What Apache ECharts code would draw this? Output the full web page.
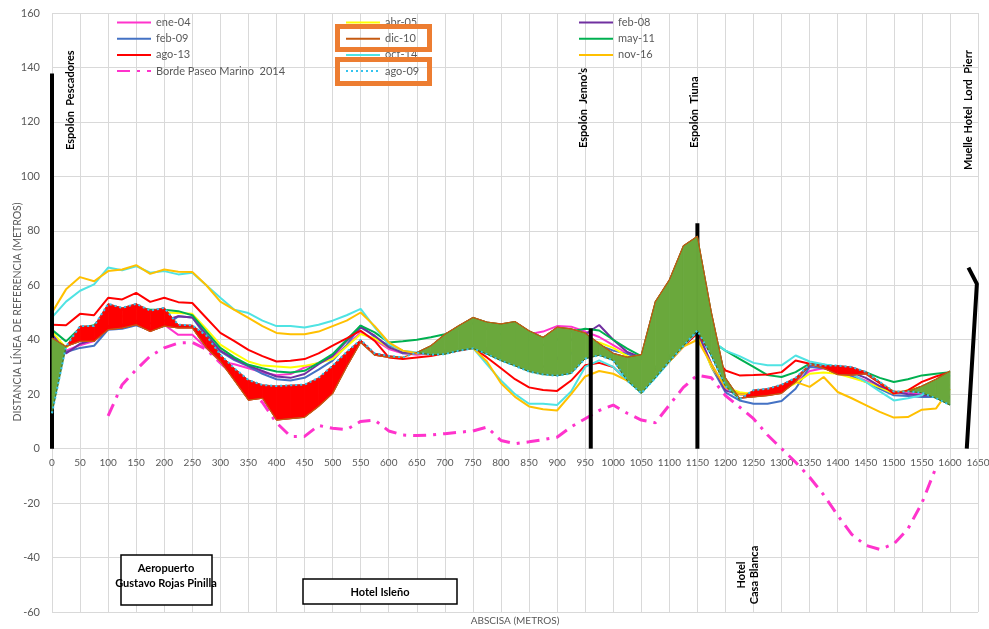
<!DOCTYPE html>
<html><head><meta charset="utf-8">
<script src="https://cdn.jsdelivr.net/npm/echarts@6/dist/echarts.min.js"></script>
<style>html,body{margin:0;padding:0;background:#fff}#c{width:989px;height:629px}</style>
</head><body><div id="c"></div>
<script>
// Abscisa (m)
const X = [0,25,50,75,100,125,150,175,200,225,250,275,300,325,350,375,
  400,425,450,475,500,525,550,575,600,625,650,675,700,725,750,775,
  800,825,850,875,900,925,950,975,1000,1025,1050,1075,1100,1125,1150,1175,
  1200,1225,1250,1275,1300,1325,1350,1375,1400,1425,1450,1475,1500,1525,1550,1575,1600];

const ene04 = [42.5,36,38,39.5,44,44.5,46,44,45.5,41.8,41.8,37,32,31,29.5,28,
  27,27.4,29.8,31.5,33.5,38,42.7,40,36.6,35,34.5,35,35.5,36.5,37.5,37,
  38,40,42,43,45,44.8,43,41,38,35,33,29,33,38,43,31,
  22,20.5,20.1,21,21.5,24.5,28.5,29.5,29,27,25,22.5,20.5,20.5,20,20,19.5];
const feb09 = [43,35.5,37,37.8,43.7,44,45.3,43.5,45,48.6,48.2,41,35.7,32.5,30.2,27.5,
  25.5,25,26,29,32.3,38,45.2,41,37.8,35,35,35,35,36,37,35,
  33,31,29,28,28,35,40,38,36,34.8,33,29,33,38,42.5,30,
  20.7,17.7,16.5,16.5,17.5,22,30,29.5,28.5,26.5,24.5,22,19.6,19.3,19,19,18.5];
const ago13 = [45.5,45.3,49.5,49,55.4,54.8,57.2,53.9,55.4,53.8,53.5,48,42.5,39.5,36.3,34,
  32,32.3,32.9,35,37.8,40.5,43.3,39.6,33.5,32.9,33.5,34,35,36,37,33.5,
  29.5,25.5,22.5,21.5,21.2,25,30.6,31.5,30,25,21,26.5,32,37.5,42.5,35,
  28.7,26.9,27,27.2,28.1,32.4,31.2,30,28.7,28,27.5,24,20.2,21.4,24.5,26.5,28.1];
const borde2014 = [null,null,null,null,12,23.5,29,34,37,38.8,39,36.5,31.5,27,22,17,
  9.5,4.5,4.5,8.5,7.5,7,10,10.5,6.5,5,4.8,5,5.5,6,6.5,7.9,
  3,1.8,2.5,3.3,4.2,8,11,14,16,13,10.5,9.5,16,22.5,27,26,
  19.5,15.3,11,5,0,-5,-10.5,-17,-24.5,-31.5,-35.5,-37,-35,-29.5,-20,-7,null];
const abr05 = [43,37,42,43,48,48.5,50,49.5,50,49.8,49.5,44,38.2,35,32,30.5,
  30.2,29.8,30.4,31.5,32.9,37.5,42.1,40.5,37.2,35.5,35,35,35.5,36.5,37.5,36,
  35,33,31,30,32,36,40,39,37,34,32,29,33,39,42,30,
  22.6,20.7,20.1,20.5,21.5,24,27.5,28,27.5,26,24.5,22.5,20.2,21.5,22.6,23,23.5];
const dic10 = [40.6,37.5,39.4,39.4,43.7,44.3,45.5,43,45,44.3,44.3,37,32,25,17.8,18.5,
  10.5,11,11.5,15.5,20.2,30,39,34.3,33.5,33.5,35.3,37.8,42,45.2,48.2,46.5,
  45.8,46.7,43.3,40.9,44.6,44,42.5,38.6,35,33.6,34.5,54,62,74.5,78,50,
  26,18.5,19,19.5,20.3,24.5,31,29.5,27.2,27,27.5,24.5,21,21,23,25.5,28.5];
const oct14 = [48.2,54,58,60.3,66.5,65.5,67,64.6,65.2,64,64.6,60,55.4,51,49.8,47,
  45,45,44.5,45.5,47,49,51.3,44.5,38.4,36,35.3,35.5,36,36.5,37,31,
  25,20,16.5,16.5,16,21,30,32.4,30,25,20.5,26,32,38,43,39.8,
  36,34,31.5,30.6,30.6,34.2,32,31,30,27.5,24.5,21,17.7,18.5,19.6,23,27];
const ago09 = [13,37.5,45,45,53.2,51.7,53.2,50.7,51.7,45.5,45.3,41.5,34.5,29.5,25.2,23.4,
  23,23.3,23.5,26,30.5,35.5,40,35,34.1,33.5,35.3,34.5,34.7,36,36.8,34.7,
  32.3,30.4,28.3,27.2,26.8,27.6,33,34.3,32.4,25,20.3,26,32,37.7,43.4,34,
  23,18,21.5,22,23.5,26,31,30.5,30.5,30,28.2,24.5,21,21,20.5,18.5,16];
const feb08 = [42,35,38.5,40,45,45.5,47,46,47,48.6,48.2,42,36,33,30.5,28.5,
  26.5,26,27.4,31,34.1,39.5,44.5,41.5,37.2,35.3,35,35,35.5,36.5,37.5,36,
  35,33,31,30,33,40,42,45.4,40,35.5,33.5,29,33,38,43,31,
  21.3,20,19.5,20.5,21.3,25,30.5,30.5,30,28,26,23,21,20,19.5,19.5,19];
const may11 = [43.7,39.4,44.3,45.3,50.5,51,52,51,51,50.5,49,43,37,33.5,30.8,29.5,
  28.3,28,28.6,31.5,34.7,40,45.2,42.7,39,39.4,40,40.9,42,44,46,44,
  42,42,40,38,40,43,44,43.4,40,36.7,34,30,34,39,42.8,39.5,
  36,33,30,27,26.3,28.1,31.2,30.8,30.2,29,28.1,26,24.5,25.5,26.9,27.5,28.1];
const nov16 = [50,58.5,63,61.5,65.2,65.8,67.4,64.2,65.8,65,64.9,60,54,51,48,45,
  42.5,42,42,43,45,47,50,45,39,36,35,35.5,36,36.5,37,32,
  24,19,15.5,14.5,14,20,26.5,28.5,27.5,25,22,27,32,37.5,40,31,
  22.5,20,20,20.5,22,24.5,22.7,26.3,20.8,18.5,16,13.5,11.4,11.6,14.3,14.7,22];

// Structures (abscisa, distancia)
const espolonPescadoresX = [0, 0];   const espolonPescadoresY = [0, 137.8];
const espolonJennosX = [960, 960];   const espolonJennosY = [0, 44.2];
const espolonTiunaX = [1150, 1150];  const espolonTiunaY = [0, 82.8];
const muelleX = [1630, 1648, 1633];  const muelleY = [0, 60.5, 66.5];

const Y_MIN = -60, Y_MAX = 160;
const GRID = { left: 52, right: 11, top: 13, bottom: 17 };
const H = 629;
const FONT = 'Lato, "Open Sans", sans-serif';
const GREY = '#595959';

function pairs(xs, ys) {
  const out = [];
  for (let i = 0; i < xs.length; i++) if (ys[i] !== null && ys[i] !== undefined) out.push([xs[i], ys[i]]);
  return out;
}
function lineSeries(name, ys, color, extra) {
  return Object.assign({
    name, type: 'line', data: pairs(X, ys), symbol: 'none', z: 2,
    lineStyle: { color, width: 2 }, itemStyle: { color }, animation: false
  }, extra || {});
}
function structSeries(xs, ys, z) {
  return { type: 'line', data: pairs(xs, ys), symbol: 'none', z,
    lineStyle: { color: '#000', width: 4, cap: 'butt' }, animation: false, silent: true };
}

// fill band between dic-10 and ago-09
const bandData = [];
for (let i = 0; i < X.length - 1; i++) bandData.push([X[i], X[i + 1], dic10[i], ago09[i], dic10[i + 1], ago09[i + 1]]);

function renderBand(params, api) {
  const xa = api.value(0), xb = api.value(1), ua = api.value(2), la = api.value(3), ub = api.value(4), lb = api.value(5);
  const da = ua - la, db = ub - lb;
  const children = [];
  function quad(x1, u1, l1, x2, u2, l2, s) {
    if (Math.abs(u1 - l1) < 1e-9 && Math.abs(u2 - l2) < 1e-9) return;
    const fill = s > 0 ? '#6AA83C' : '#FF0000';
    const edge = s > 0 ? '#3D6B22' : '#C0392B';
    const p1 = api.coord([x1, u1]), p2 = api.coord([x2, u2]), p3 = api.coord([x2, l2]), p4 = api.coord([x1, l1]);
    children.push({ type: 'polygon', shape: { points: [p1, p2, p3, p4] }, style: { fill, stroke: fill, lineWidth: 0.8 } });
    children.push({ type: 'polyline', shape: { points: [p1, p2] }, style: { stroke: edge, lineWidth: 1, fill: null } });
    children.push({ type: 'polyline', shape: { points: [p4, p3] }, style: { stroke: edge, lineWidth: 1, fill: null } });
  }
  if (da * db < 0) {
    const t = da / (da - db);
    const xm = xa + t * (xb - xa), ym = ua + t * (ub - ua);
    quad(xa, ua, la, xm, ym, ym, Math.sign(da));
    quad(xm, ym, ym, xb, ub, lb, Math.sign(db));
  } else {
    quad(xa, ua, la, xb, ub, lb, Math.sign(da + db));
  }
  return { type: 'group', children };
}

const legendBase = {
  orient: 'vertical', top: 17, itemWidth: 34, itemHeight: 12, itemGap: 5.2, selectedMode: false,
  itemStyle: { opacity: 0 },
  textStyle: { color: GREY, fontSize: 11, fontFamily: FONT }, padding: 0
};

// x axis sits on the y=0 line
const plotH = H - GRID.top - GRID.bottom;
const xAxisOffset = -plotH * (0 - Y_MIN) / (Y_MAX - Y_MIN);

const option = {
  backgroundColor: '#fff',
  animation: false,
  grid: Object.assign({ containLabel: false, outerBoundsMode: 'none' }, GRID),
  xAxis: {
    type: 'value', min: 0, max: 1650, interval: 50, position: 'bottom', offset: xAxisOffset,
    axisLine: { show: true, onZero: false, lineStyle: { color: '#D9D9D9' } },
    axisTick: { show: false },
    axisLabel: { color: GREY, fontSize: 10, fontFamily: FONT, margin: 9, formatter: function (v) { return String(v); } },
    splitLine: { show: true, lineStyle: { color: '#D9D9D9', width: 1 } }
  },
  yAxis: {
    type: 'value', min: Y_MIN, max: Y_MAX, interval: 20,
    axisLine: { show: false }, axisTick: { show: false },
    axisLabel: { color: GREY, fontSize: 11, fontFamily: FONT, margin: 12, formatter: function (v) { return String(v); } },
    splitLine: { show: true, lineStyle: { color: '#D9D9D9', width: 1 } }
  },
  legend: [
    Object.assign({ left: 116, data: ['ene-04', 'feb-09', 'ago-13', 'Borde Paseo Marino  2014'] }, legendBase),
    Object.assign({ left: 345, data: ['abr-05', 'dic-10', 'oct-14', 'ago-09'] }, legendBase),
    Object.assign({ left: 578, data: ['feb-08', 'may-11', 'nov-16'] }, legendBase)
  ],
  series: [
    lineSeries('ene-04', ene04, '#FF33CC'),
    lineSeries('feb-09', feb09, '#4472C4'),
    lineSeries('abr-05', abr05, '#FFFF00'),
    lineSeries('feb-08', feb08, '#7030A0'),
    lineSeries('may-11', may11, '#00B050'),
    lineSeries('ago-13', ago13, '#FF0000'),
    lineSeries('oct-14', oct14, '#4FE3E3'),
    lineSeries('nov-16', nov16, '#FFC000'),
    lineSeries('Borde Paseo Marino  2014', borde2014, '#FF33CC', { lineStyle: { color: '#FF33CC', width: 3, type: [13, 7, 3, 7] } }),
    structSeries(espolonPescadoresX, espolonPescadoresY, 3),
    structSeries(espolonTiunaX, espolonTiunaY, 3),
    structSeries(muelleX, muelleY, 3),
    { type: 'custom', name: 'band', renderItem: renderBand, data: bandData, encode: { x: [0, 1], y: [2, 3, 4, 5] }, z: 4, animation: false, silent: true },
    lineSeries('dic-10', dic10, '#C55A11', { z: 5, lineStyle: { color: '#C55A11', width: 1.2 } }),
    lineSeries('ago-09', ago09, '#33C3EE', { z: 5, lineStyle: { color: '#33C3EE', width: 2, type: [2, 3] } }),
    structSeries(espolonJennosX, espolonJennosY, 6)
  ],
  graphic: [
    { type: 'text', x: 18, y: 312, rotation: Math.PI / 2, z: 50, style: { text: 'DISTANCIA LÍNEA DE REFERENCIA (METROS)', font: '10.5px ' + FONT, fill: GREY, align: 'center', verticalAlign: 'middle', textAlign: 'center', textVerticalAlign: 'middle' } },
    { type: 'text', x: 70, y: 150, rotation: Math.PI / 2, z: 50, style: { text: 'Espolón  Pescadores', font: 'bold 11px ' + FONT, fill: '#000', align: 'left', verticalAlign: 'middle', textAlign: 'left', textVerticalAlign: 'middle' } },
    { type: 'text', x: 583, y: 148, rotation: Math.PI / 2, z: 50, style: { text: 'Espolón  Jenno’s', font: 'bold 11px ' + FONT, fill: '#000', align: 'left', verticalAlign: 'middle', textAlign: 'left', textVerticalAlign: 'middle' } },
    { type: 'text', x: 694, y: 148, rotation: Math.PI / 2, z: 50, style: { text: 'Espolón  Tiuna', font: 'bold 11px ' + FONT, fill: '#000', align: 'left', verticalAlign: 'middle', textAlign: 'left', textVerticalAlign: 'middle' } },
    { type: 'text', x: 968, y: 170, rotation: Math.PI / 2, z: 50, style: { text: 'Muelle Hotel  Lord  Pierr', font: 'bold 11px ' + FONT, fill: '#000', align: 'left', verticalAlign: 'middle', textAlign: 'left', textVerticalAlign: 'middle' } },
    { type: 'text', x: 748, y: 575, rotation: Math.PI / 2, z: 50, style: { text: 'Hotel\nCasa Blanca', font: 'bold 11px ' + FONT, lineHeight: 13, fill: '#000', align: 'center', verticalAlign: 'middle', textAlign: 'center', textVerticalAlign: 'middle' } },
    { type: 'rect', z: 50, shape: { x: 121, y: 555, width: 91, height: 50 }, style: { fill: '#fff', stroke: '#000', lineWidth: 1.5 } },
    { type: 'text', x: 166, y: 576, z: 51, style: { text: 'Aeropuerto\nGustavo Rojas Pinilla', font: 'bold 11px ' + FONT, lineHeight: 15, fill: '#000', align: 'center', verticalAlign: 'middle', textAlign: 'center', textVerticalAlign: 'middle' } },
    { type: 'rect', z: 50, shape: { x: 303, y: 579, width: 154, height: 25 }, style: { fill: '#fff', stroke: '#000', lineWidth: 1.5 } },
    { type: 'text', x: 380, y: 592, z: 51, style: { text: 'Hotel Isleño', font: 'bold 11px ' + FONT, fill: '#000', align: 'center', verticalAlign: 'middle', textAlign: 'center', textVerticalAlign: 'middle' } },
    { type: 'text', x: 515, y: 621, z: 50, style: { text: 'ABSCISA (METROS)', font: '10px ' + FONT, fill: GREY, align: 'center', verticalAlign: 'middle', textAlign: 'center', textVerticalAlign: 'middle' } },
    { type: 'rect', z: 60, shape: { x: 337.5, y: 26.5, width: 92, height: 23 }, style: { fill: null, stroke: '#ED7D31', lineWidth: 5 } },
    { type: 'rect', z: 60, shape: { x: 337.5, y: 59.5, width: 92, height: 24 }, style: { fill: null, stroke: '#ED7D31', lineWidth: 5 } }
  ]
};

const chart = echarts.init(document.getElementById('c'), null, { renderer: 'canvas' });
chart.setOption(option);
</script>
</body></html>
